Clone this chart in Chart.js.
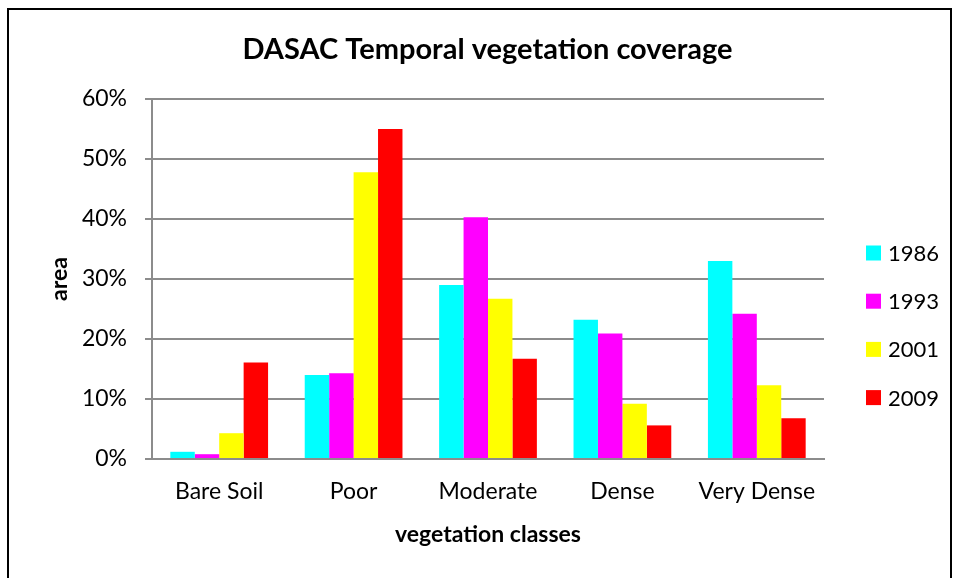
<!DOCTYPE html>
<html>
<head>
<meta charset="utf-8">
<script src="https://cdn.jsdelivr.net/npm/chart.js@4/dist/chart.umd.min.js"></script>
<style>
  html, body { margin: 0; padding: 0; background: #ffffff; }
  #wrap { position: relative; width: 960px; height: 578px; }
</style>
</head>
<body>
<div id="wrap"><canvas id="c" width="960" height="578"></canvas></div>
<script>
const categories = ["Bare Soil", "Poor", "Moderate", "Dense", "Very Dense"];
const seriesNames = ["1986", "1993", "2001", "2009"];
const values1986 = [1.2, 14.0, 29.0, 23.2, 33.0];
const values1993 = [0.8, 14.3, 40.3, 20.9, 24.2];
const values2001 = [4.3, 47.8, 26.7, 9.2, 12.3];
const values2009 = [16.1, 55.0, 16.7, 5.6, 6.8];
const seriesColors = ["#00FFFF", "#FF00FF", "#FFFF00", "#FF0000"];
const chartTitle = "DASAC Temporal vegetation coverage";
const xTitle = "vegetation classes";
const yTitle = "area";
const yMax = 60;
const yStep = 10;

const FONT = "Lato, 'Open Sans', sans-serif";
const GRID = "#8c8c8c";

const seriesValues = [values1986, values1993, values2001, values2009];

const frameAndLegend = {
  id: "frameAndLegend",
  beforeDraw(chart) {
    const ctx = chart.ctx;
    ctx.save();
    ctx.fillStyle = "#ffffff";
    ctx.fillRect(0, 0, chart.width, chart.height);
    ctx.restore();
  },
  afterDraw(chart) {
    const ctx = chart.ctx;
    ctx.save();
    ctx.strokeStyle = "#000000";
    ctx.lineWidth = 2;
    ctx.strokeRect(8, 9, 943, 620);
    const ds = chart.data.datasets;
    const x0 = 866, box = 15, y0 = 253, step = 48.2;
    ctx.font = "22px " + FONT;
    ctx.textBaseline = "middle";
    ctx.textAlign = "left";
    ds.forEach((d, i) => {
      const cy = y0 + i * step;
      ctx.fillStyle = d.backgroundColor;
      ctx.fillRect(x0, cy - box / 2, box, box);
      ctx.fillStyle = "#000000";
      ctx.fillText(d.label, x0 + 22, cy + 1);
    });
    ctx.restore();
  }
};

new Chart(document.getElementById("c"), {
  type: "bar",
  data: {
    labels: categories,
    datasets: seriesNames.map((n, i) => ({
      label: n,
      data: seriesValues[i],
      backgroundColor: seriesColors[i],
      borderWidth: 0,
      categoryPercentage: 4 / 5.5,
      barPercentage: 1.0
    }))
  },
  options: {
    responsive: false,
    animation: false,
    devicePixelRatio: 1,
    layout: { padding: { left: 15, right: 0, top: 0, bottom: 0 } },
    plugins: {
      legend: { display: false },
      tooltip: { enabled: false },
      title: {
        display: true,
        text: chartTitle,
        color: "#000000",
        font: { family: FONT, size: 29, weight: "bold" },
        padding: { top: 32.6, bottom: 31.6 }
      }
    },
    scales: {
      x: {
        grid: { display: false, drawTicks: false },
        border: { display: true, color: GRID, width: 2 },
        ticks: {
          color: "#000000",
          font: { family: FONT, size: 23 },
          padding: 19,
          maxRotation: 0,
          autoSkip: false
        },
        title: {
          display: true,
          text: xTitle,
          color: "#000000",
          font: { family: FONT, size: 23, weight: "bold" },
          padding: { top: 0, bottom: 30 }
        },
        afterFit(scale) { scale.height = 119; }
      },
      y: {
        min: 0,
        max: yMax,
        grid: { color: GRID, lineWidth: 2, drawTicks: true, tickLength: 7, tickColor: GRID },
        border: { display: true, color: GRID, width: 2 },
        ticks: {
          stepSize: yStep,
          color: "#000000",
          font: { family: FONT, size: 23 },
          padding: 18,
          callback: (v) => v + "%"
        },
        title: {
          display: true,
          text: yTitle,
          color: "#000000",
          font: { family: FONT, size: 23, weight: "bold" },
          padding: { top: 31, bottom: 0 }
        },
        afterFit(scale) { scale.width = 137; }
      },
      legendSpace: {
        type: "linear",
        position: "right",
        display: true,
        grid: { display: false, drawTicks: false },
        border: { display: false },
        ticks: { display: false },
        afterFit(scale) { scale.width = 136; }
      }
    }
  },
  plugins: [frameAndLegend]
});
</script>
</body>
</html>
